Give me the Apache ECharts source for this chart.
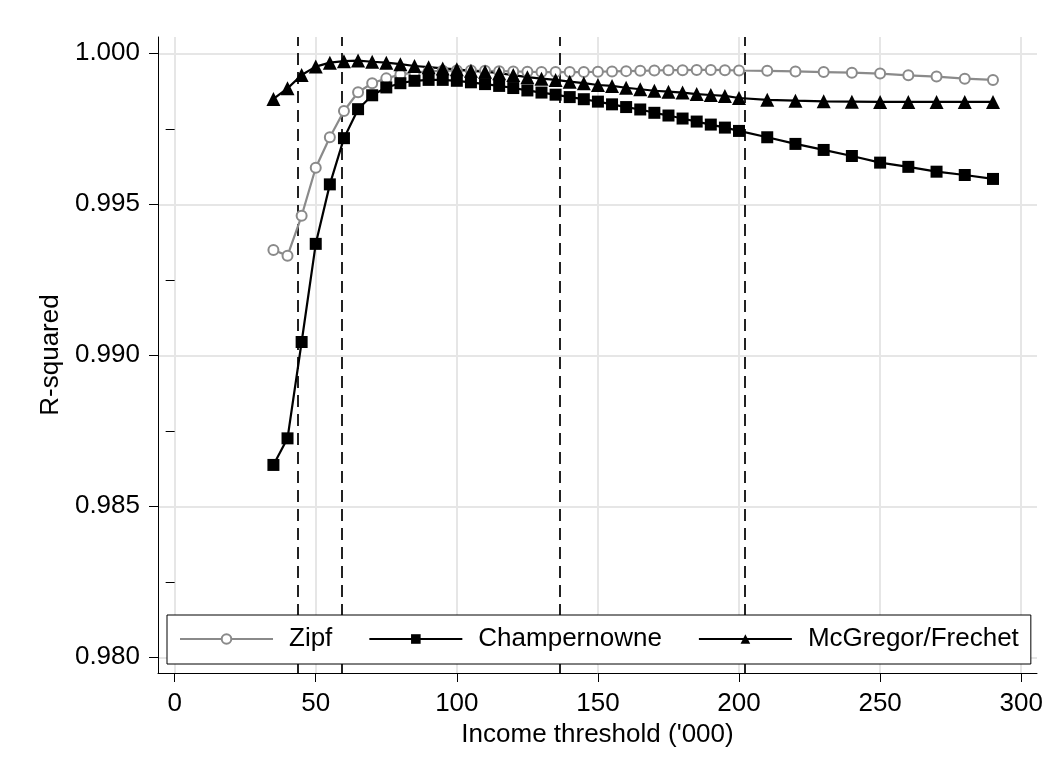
<!DOCTYPE html>
<html>
<head>
<meta charset="utf-8">
<script src="https://cdn.jsdelivr.net/npm/echarts@6/dist/echarts.min.js"></script>
<style>
html,body{margin:0;padding:0;background:#fff;}
#chart{width:1053px;height:770px;}
</style>
</head>
<body>
<div id="chart"></div>
<script>
const thresholds = [35,40,45,50,55,60,65,70,75,80,85,90,95,100,105,110,115,120,125,130,135,140,145,150,155,160,165,170,175,180,185,190,195,200,210,220,230,240,250,260,270,280,290];
const zipf = [0.99349,0.99330,0.99462,0.99621,0.99722,0.99809,0.99871,0.99901,0.99917,0.99930,0.99936,0.99940,0.99942,0.99943,0.99943,0.99942,0.99941,0.99940,0.99939,0.99938,0.99938,0.99938,0.99938,0.99939,0.99940,0.99941,0.99942,0.99943,0.99944,0.99944,0.99945,0.99945,0.99944,0.99943,0.99942,0.99940,0.99938,0.99936,0.99933,0.99927,0.99923,0.99916,0.99912];
const champernowne = [0.98637,0.98725,0.99044,0.99369,0.99566,0.99719,0.99815,0.99861,0.99887,0.99901,0.99909,0.99912,0.99912,0.99909,0.99904,0.99898,0.99892,0.99885,0.99877,0.99870,0.99863,0.99855,0.99848,0.99840,0.99831,0.99822,0.99814,0.99803,0.99794,0.99784,0.99774,0.99764,0.99754,0.99743,0.99722,0.99700,0.99680,0.99660,0.99638,0.99624,0.99608,0.99597,0.99584];
const mcgregor = [0.99849,0.99884,0.99928,0.99956,0.99969,0.99974,0.99976,0.99972,0.99969,0.99964,0.99958,0.99954,0.99950,0.99947,0.99942,0.99939,0.99934,0.99928,0.99921,0.99916,0.99912,0.99906,0.99901,0.99895,0.99892,0.99886,0.99881,0.99876,0.99873,0.99870,0.99865,0.99862,0.99859,0.99852,0.99846,0.99843,0.99841,0.99840,0.99839,0.99839,0.99839,0.99839,0.99839];
const cutoffs = [43.7, 59.3, 136.5, 202];
const xTicks = [0,50,100,150,200,250,300];
const yTicks = [0.980,0.985,0.990,0.995,1.000];
const yMinorTicks = [0.9825,0.9875,0.9925,0.9975];
const seriesNames = ['Zipf','Champernowne','McGregor/Frechet'];

const FONT = "'Liberation Sans', Arial, sans-serif";
const pairs = arr => thresholds.map((x,i)=>[x,arr[i]]);

const chart = echarts.init(document.getElementById('chart'), null, {renderer:'canvas'});
const XMIN = -5.9, XMAX = 305.6, YMIN = 0.97948, YMAX = 1.00054;

chart.setOption({
  animation:false,
  backgroundColor:'#fff',
  grid:{left:158,right:16,top:37,bottom:97,containLabel:false},
  legend:{
    left:167, top:615, z:20,
    orient:'horizontal',
    padding:[11,12,12,12],
    itemWidth:93, itemHeight:12, itemGap:36,
    borderColor:'#000', borderWidth:1, backgroundColor:'#fff',
    textStyle:{fontFamily:FONT,fontSize:26,color:'#000',padding:[0,0,0,11]},
    data:seriesNames
  },
  xAxis:{
    type:'value', min:XMIN, max:XMAX,
    name:"Income threshold ('000)", nameLocation:'middle', nameGap:43,
    nameTextStyle:{fontFamily:FONT,fontSize:26,color:'#000'},
    axisLine:{show:true,onZero:false,lineStyle:{color:'#000',width:1}},
    axisTick:{show:true,length:9,customValues:xTicks,lineStyle:{color:'#000',width:1}},
    axisLabel:{customValues:xTicks,margin:18,fontFamily:FONT,fontSize:26,color:'#000',formatter:v=>String(v)},
    splitLine:{show:true,lineStyle:{color:'#e6e6e6',width:2}}
  },
  yAxis:[{
    type:'value', min:YMIN, max:YMAX,
    name:'R-squared', nameLocation:'middle', nameGap:89,
    nameTextStyle:{fontFamily:FONT,fontSize:26,color:'#000'},
    axisLine:{show:true,onZero:false,lineStyle:{color:'#000',width:1}},
    axisTick:{show:true,length:9,customValues:yTicks,lineStyle:{color:'#000',width:1}},
    axisLabel:{customValues:yTicks,margin:18,fontFamily:FONT,fontSize:26,color:'#000',formatter:v=>v.toFixed(3)},
    splitLine:{show:true,lineStyle:{color:'#e6e6e6',width:2}}
  },{
    type:'value', min:YMIN, max:YMAX, position:'left', offset:0,
    axisLine:{show:false},
    axisTick:{show:true,length:9,customValues:yMinorTicks,lineStyle:{color:'#000',width:1}},
    axisLabel:{show:false},
    splitLine:{show:false}
  }],
  series:[
    {
      name:'cutoffs', type:'line', data:[], z:1, silent:true,
      markLine:{
        z:1,
        symbol:['none','none'], silent:true, animation:false,
        label:{show:false},
        lineStyle:{color:'#222',width:2,type:[12,7]},
        data:cutoffs.map(v=>({xAxis:v}))
      }
    },
    {
      name:seriesNames[0], type:'line', data:pairs(zipf), z:2,
      symbol:'emptyCircle', symbolSize:10,
      lineStyle:{color:'#8a8a8a',width:2.2},
      itemStyle:{color:'#8a8a8a',borderColor:'#8a8a8a',borderWidth:2.2}
    },
    {
      name:seriesNames[1], type:'line', data:pairs(champernowne), z:2,
      symbol:'rect', symbolSize:12,
      lineStyle:{color:'#000',width:2.2},
      itemStyle:{color:'#000'}
    },
    {
      name:seriesNames[2], type:'line', data:pairs(mcgregor), z:2,
      symbol:'triangle', symbolSize:14,
      lineStyle:{color:'#000',width:2.2},
      itemStyle:{color:'#000'}
    }
  ]
});
</script>
</body>
</html>
